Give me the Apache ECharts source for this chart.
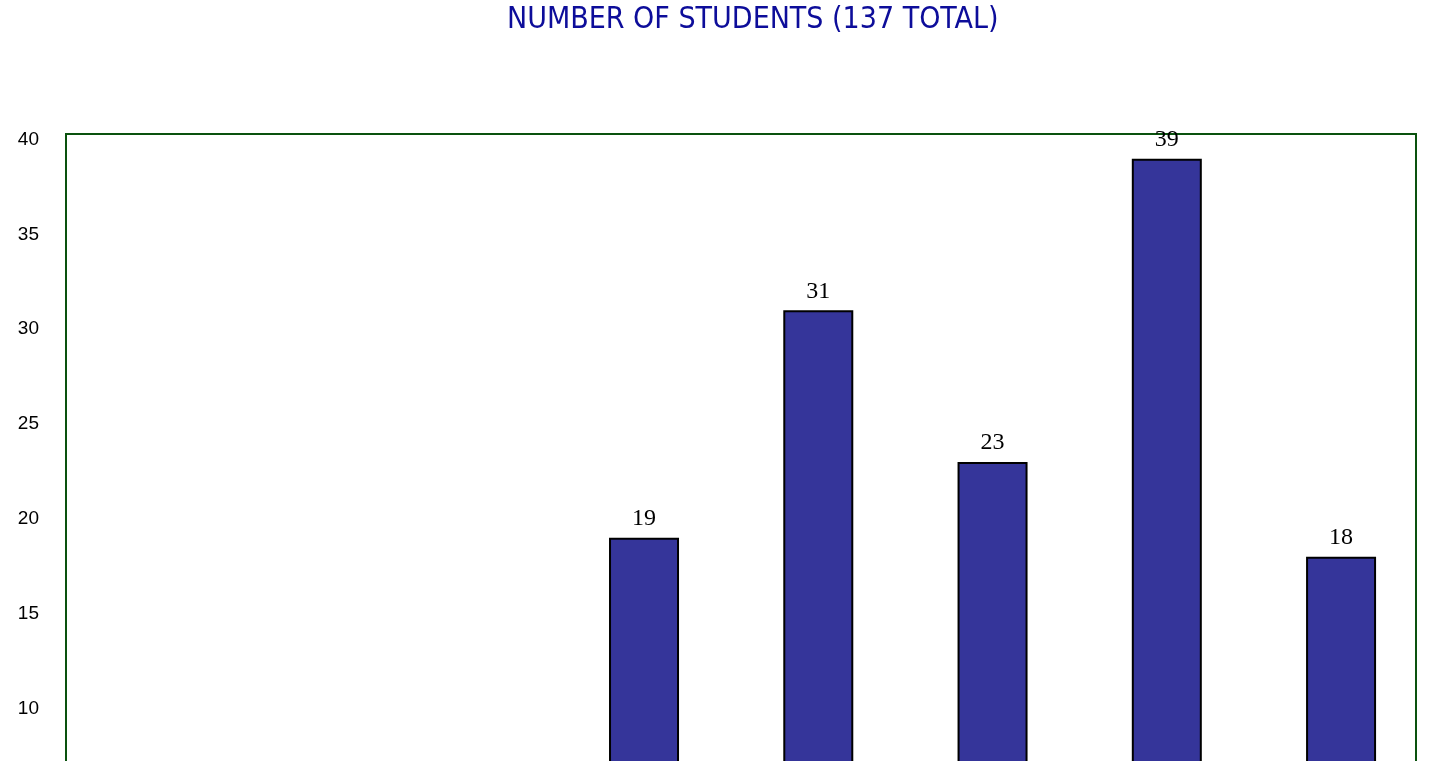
<!DOCTYPE html>
<html>
<head>
<meta charset="utf-8">
<script src="https://cdn.jsdelivr.net/npm/echarts@6/dist/echarts.min.js"></script>
<style>
html,body{margin:0;padding:0;background:#fff;overflow:hidden;width:1442px;height:761px;}
#wrap{width:1442px;height:761px;overflow:hidden;position:relative;}
#chart{width:1442px;height:960px;position:absolute;left:0;top:0;}
</style>
</head>
<body>
<div id="wrap"><div id="chart"></div></div>
<script>
// Category positions (index along x) and student counts
const categories = ['1', '2', '3', '4', '5', '6', '7', '8'];
const positions = [0, 1, 2, 3, 4, 5, 6, 7];
const students = [1, 2, 4, 19, 31, 23, 39, 18];
const yTicks = [0, 5, 10, 15, 20, 25, 30, 35, 40];
const titleText = 'NUMBER OF STUDENTS (137 TOTAL)';

const chart = echarts.init(document.getElementById('chart'));
chart.setOption({
  animation: false,
  title: {
    text: titleText,
    left: 502,
    top: 0,
    textStyle: {
      color: '#0d0d9a',
      fontFamily: '"Liberation Sans Narrow", "DejaVu Sans Condensed", Roboto, sans-serif',
      fontWeight: 'normal',
      fontSize: 30
    }
  },
  grid: {
    left: 66,
    top: 134,
    width: 1350,
    height: 764,
    show: true,
    borderColor: '#0a520e',
    borderWidth: 2,
    backgroundColor: 'transparent'
  },
  xAxis: {
    type: 'value',
    min: -0.317,
    max: 7.43,
    axisLine: {show: false},
    axisTick: {show: false},
    axisLabel: {show: false},
    splitLine: {show: false}
  },
  yAxis: {
    type: 'value',
    min: 0,
    max: 40.3,
    interval: 5,
    axisLine: {show: false},
    axisTick: {show: false},
    splitLine: {show: false},
    axisLabel: {
      margin: 27,
      color: '#000',
      fontSize: 19,
      fontFamily: '"Liberation Sans", Arial, sans-serif',
      showMaxLabel: false,
      formatter: v => (yTicks.indexOf(v) >= 0 ? String(v) : '')
    }
  },
  series: [{
    type: 'bar',
    barWidth: 70,
    data: positions.map((p, i) => [p, students[i]]),
    itemStyle: {
      color: '#35359a',
      borderColor: '#000',
      borderWidth: 2
    },
    label: {
      show: true,
      position: 'top',
      distance: 7,
      color: '#000',
      fontSize: 24,
      fontFamily: '"Liberation Serif", "Times New Roman", serif',
      formatter: p => String(p.value[1])
    }
  }]
});
</script>
</body>
</html>
